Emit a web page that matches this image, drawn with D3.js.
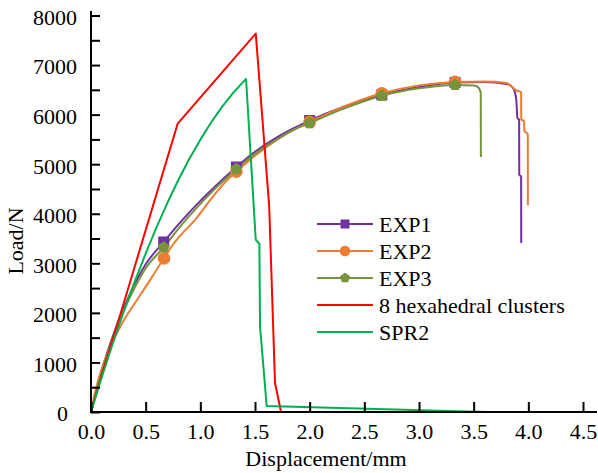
<!DOCTYPE html>
<html>
<head>
<meta charset="utf-8">
<script src="https://cdn.jsdelivr.net/npm/d3@7"></script>
<style>
  body { margin: 0; background: #fff; }
</style>
</head>
<body>
<svg id="chart" width="598" height="473" style="font-family: 'Liberation Serif', 'Times New Roman', 'DejaVu Serif', serif;"></svg>
<script>
const FONT = "'Liberation Serif', 'Times New Roman', 'DejaVu Serif', serif";

// data (displacement mm, load N)
const exp1 = [[0,0],[0.05,450],[0.1,850],[0.2,1530],[0.3,2100],[0.4,2580],[0.5,2980],[0.665,3430],[0.8,3785],[1.0,4260],[1.15,4580],[1.33,4943],[1.5,5250],[1.7,5540],[1.85,5720],[2.0,5880],[2.3,6150],[2.66,6400],[3.0,6560],[3.33,6650],[3.6,6660],[3.8,6620],[3.86,6540],[3.89,6300],[3.90,5930],[3.916,5900],[3.917,4790],[3.934,4750],[3.935,3410]];
const exp2 = [[0,0],[0.03,330],[0.082,760],[0.15,1180],[0.235,1580],[0.3,1850],[0.387,2150],[0.45,2360],[0.54,2660],[0.6,2870],[0.668,3100],[0.75,3380],[0.85,3640],[0.95,3870],[1.05,4160],[1.15,4440],[1.25,4690],[1.33,4850],[1.5,5170],[1.7,5490],[1.85,5690],[2.0,5850],[2.3,6150],[2.66,6430],[3.0,6590],[3.33,6660],[3.6,6670],[3.8,6640],[3.89,6490],[3.934,6450],[3.935,5910],[3.962,5865],[3.963,5680],[3.995,5600],[3.996,4170]];
const exp3 = [[0,0],[0.05,430],[0.1,820],[0.2,1490],[0.3,2050],[0.4,2510],[0.5,2900],[0.665,3320],[0.8,3700],[1.0,4200],[1.15,4540],[1.33,4900],[1.5,5210],[1.7,5500],[1.85,5690],[2.0,5830],[2.3,6110],[2.66,6380],[3.0,6530],[3.33,6600],[3.5,6590],[3.538,6560],[3.565,6440],[3.566,5145]];
const hexa = [[0,0],[0.1,760],[0.3,2200],[0.793,5820],[1.507,7636],[1.63,4150],[1.683,590],[1.738,0],[3.705,0]];
const spr2 = [[0,0],[0.1,712],[0.2,1388],[0.3,2027],[0.4,2631],[0.5,3198],[0.6,3731],[0.7,4226],[0.8,4685],[0.9,5108],[1.0,5495],[1.1,5846],[1.2,6160],[1.3,6439],[1.418,6721],[1.507,3475],[1.54,3394],[1.546,1724],[1.607,121],[3.614,0]];

const markerX = [0.665, 0.668, 1.33, 2.0, 2.66, 3.33];
const xTicks = [0, 0.5, 1, 1.5, 2, 2.5, 3, 3.5, 4, 4.5];
const yTicks = d3.range(0, 8001, 500);

const series = [
  { name: "EXP1", data: exp1, color: "#7030A0", marker: "square", smooth: true },
  { name: "EXP2", data: exp2, color: "#ED7D31", marker: "circle", smooth: true },
  { name: "EXP3", data: exp3, color: "#77933C", marker: "pentagon", smooth: true },
  { name: "8 hexahedral clusters", data: hexa, color: "#FF0000", marker: null, smooth: false },
  { name: "SPR2", data: spr2, color: "#00B050", marker: null, smooth: false }
];

const svg = d3.select("#chart");
const x = d3.scaleLinear().domain([0, 4.5]).range([91, 583]);
const y = d3.scaleLinear().domain([0, 8000]).range([412, 15.5]);

// markers
function drawMarker(g, type, cx, cy, color, s) {
  if (type === "square") {
    g.append("rect").attr("x", cx - s).attr("y", cy - s)
      .attr("width", 2 * s).attr("height", 2 * s).attr("fill", color);
  } else if (type === "circle") {
    g.append("circle").attr("cx", cx).attr("cy", cy).attr("r", s + 0.8).attr("fill", color);
  } else if (type === "pentagon") {
    const r = s + 0.8;
    const pts = d3.range(5).map(i => {
      const a = -Math.PI / 2 + i * 2 * Math.PI / 5;
      return [cx + r * Math.cos(a), cy + r * Math.sin(a)];
    });
    g.append("polygon").attr("points", pts.map(p => p.join(",")).join(" ")).attr("fill", color);
  }
}

// lines
const plot = svg.append("g");
series.forEach(s => {
  const line = d3.line()
    .x(d => x(d[0])).y(d => y(d[1]))
    .curve(s.smooth ? d3.curveMonotoneX : d3.curveLinear);
  plot.append("path")
    .datum(s.data)
    .attr("fill", "none")
    .attr("stroke", s.color)
    .attr("stroke-width", 2)
    .attr("stroke-linejoin", "round")
    .attr("d", line);
});

// markers drawn last so they sit on top
const marks = svg.append("g");
series.filter(s => s.marker).forEach(s => {
  s.data.filter(d => markerX.includes(d[0])).forEach(d => {
    drawMarker(marks, s.marker, x(d[0]), y(d[1]), s.color, 5.5);
  });
});

// axes
const xAxis = svg.append("g")
  .attr("transform", `translate(0,${y(0)})`)
  .call(d3.axisBottom(x).tickValues(xTicks).tickSize(-10).tickPadding(11)
    .tickFormat(d3.format(".1f")));
xAxis.attr("font-family", FONT);
xAxis.select(".domain").remove();
xAxis.selectAll("line").attr("stroke", "#000").attr("stroke-width", 2);
xAxis.selectAll("text").attr("font-family", FONT).style("font-size", "22px").attr("fill", "#000");

const yAxis = svg.append("g")
  .attr("transform", `translate(${x(0)},0)`)
  .call(d3.axisLeft(y).tickValues(yTicks).tickSize(-9).tickPadding(14)
    .tickFormat(d => d % 1000 === 0 ? d : ""));
yAxis.attr("font-family", FONT);
yAxis.select(".domain").remove();
yAxis.selectAll("line").attr("stroke", "#000").attr("stroke-width", 2);
yAxis.selectAll("text").attr("font-family", FONT).style("font-size", "22px")
  .attr("fill", "#000").attr("dy", "0.4em");
yAxis.selectAll("text").filter(d => d === 0).attr("x", -23);

svg.append("line").attr("x1", x(0)).attr("x2", 597).attr("y1", y(0)).attr("y2", y(0))
  .attr("stroke", "#000").attr("stroke-width", 2);
svg.append("line").attr("x1", x(0)).attr("x2", x(0)).attr("y1", y(0) + 1).attr("y2", 11)
  .attr("stroke", "#000").attr("stroke-width", 2);

// axis titles
svg.append("text")
  .attr("x", 326).attr("y", 466)
  .attr("text-anchor", "middle")
  .attr("font-family", FONT)
  .style("font-size", "22px")
  .text("Displacement/mm");

svg.append("text")
  .attr("transform", "translate(23,241) rotate(-90)")
  .attr("text-anchor", "middle")
  .attr("font-family", FONT)
  .style("font-size", "22px")
  .text("Load/N");

// legend
const legend = svg.append("g").attr("transform", "translate(317,224)");
series.forEach((s, i) => {
  const row = legend.append("g").attr("transform", `translate(0,${i * 27})`);
  row.append("line").attr("x1", 0).attr("x2", 56).attr("y1", 0).attr("y2", 0)
    .attr("stroke", s.color).attr("stroke-width", 2);
  if (s.marker) drawMarker(row, s.marker, 28, 0, s.color, 4.5);
  row.append("text").attr("x", 62).attr("y", 7.5)
    .attr("font-family", FONT)
    .style("font-size", "22px")
    .text(s.name);
});
</script>
</body>
</html>
